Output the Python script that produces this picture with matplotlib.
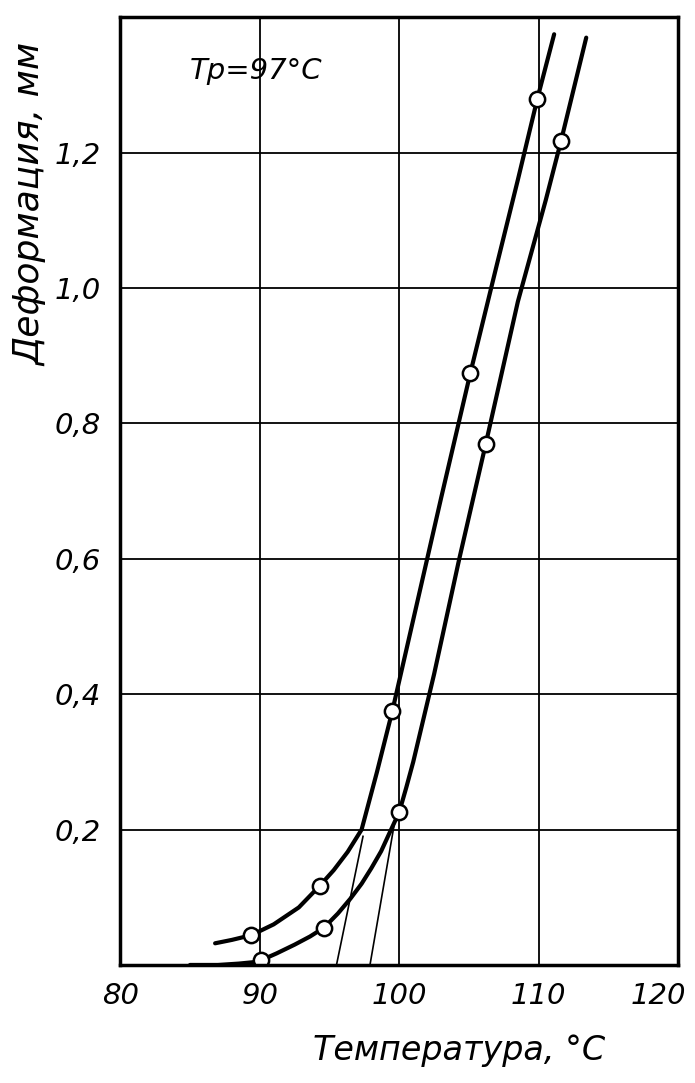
import matplotlib.pyplot as plt
from matplotlib.transforms import ScaledTranslation

# measured points (white circles)
t_upper = [89.4, 94.3, 99.5, 105.1, 109.9]
d_upper = [0.044, 0.117, 0.375, 0.875, 1.28]
t_lower = [90.1, 94.6, 100.0, 106.2, 111.6]
d_lower = [0.007, 0.055, 0.226, 0.77, 1.218]

# hand-drawn curves
trace_upper_t = [86.8, 88.0, 89.4, 91.0, 92.8, 94.3, 95.3, 96.3, 97.3, 98.4, 99.5, 101.0, 103.0, 105.1, 107.0, 108.5, 109.9, 111.1]
trace_upper_d = [0.032, 0.037, 0.044, 0.060, 0.085, 0.117, 0.140, 0.167, 0.200, 0.285, 0.375, 0.51, 0.69, 0.875, 1.035, 1.16, 1.28, 1.375]
trace_lower_t = [85.0, 87.0, 88.5, 89.5, 90.1, 91.2, 92.5, 93.6, 94.6, 95.6, 96.5, 97.3, 98.0, 98.7, 99.3, 100.0, 100.5, 101.0, 102.5, 104.3, 106.2, 108.5, 110.5, 111.6, 113.4]
trace_lower_d = [0.0, 0.0, 0.002, 0.004, 0.007, 0.017, 0.030, 0.042, 0.055, 0.076, 0.098, 0.120, 0.143, 0.168, 0.195, 0.226, 0.262, 0.30, 0.43, 0.60, 0.77, 0.98, 1.13, 1.218, 1.37]

# tangent lines used to find the softening point
tan1_t = [95.5, 97.4]
tan1_d = [0.0, 0.19]
tan2_t = [97.9, 99.7]
tan2_d = [0.0, 0.215]

xticks = [80, 90, 100, 110, 120]
xticklabels = ['80', '90', '100', '110', '120']
yticks = [0.2, 0.4, 0.6, 0.8, 1.0, 1.2]
yticklabels = ['0,2', '0,4', '0,6', '0,8', '1,0', '1,2']

fam = ['DejaVu Sans Condensed', 'Liberation Sans Narrow', 'DejaVu Sans']
plt.rcParams['font.family'] = fam
plt.rcParams['font.style'] = 'italic'

fig = plt.figure(figsize=(6.95, 10.83), dpi=100)
ax = fig.add_axes([0.173, 0.109, 0.803, 0.875])

ax.set_xlim(80, 120)
ax.set_ylim(0, 1.4)
ax.set_xticks(xticks)
ax.set_xticklabels(xticklabels, fontsize=21, style='italic')
ax.set_yticks(yticks)
ax.set_yticklabels(yticklabels, fontsize=21, style='italic')
ax.tick_params(length=0, pad=12)
ax.tick_params(axis='y', pad=14)
ax.grid(True, color='black', lw=1.3)
ax.set_axisbelow(True)
for s in ax.spines.values():
    s.set_linewidth(2.5)

# last x label sits a little left of its grid line, as in the original
last = ax.get_xticklabels()[-1]
last.set_transform(last.get_transform() + ScaledTranslation(-0.2, 0, fig.dpi_scale_trans))

ax.plot(tan1_t, tan1_d, color='black', lw=1.2)
ax.plot(tan2_t, tan2_d, color='black', lw=1.2)
ax.plot(trace_upper_t, trace_upper_d, color='black', lw=3, solid_capstyle='round')
ax.plot(trace_lower_t, trace_lower_d, color='black', lw=3, solid_capstyle='round')
ax.plot(t_upper, d_upper, 'o', ms=11, mfc='white', mec='black', mew=1.8)
ax.plot(t_lower, d_lower, 'o', ms=11, mfc='white', mec='black', mew=1.8)

ax.text(85, 1.32, 'Tp=97°C', fontsize=21, style='italic', ha='left', va='center')

fig.text(0.043, 0.811, 'Деформация, мм', rotation=90, fontsize=26, style='italic',
         ha='center', va='center')
fig.text(0.66, 0.03, 'Температура, °C', fontsize=24, style='italic',
         ha='center', va='center')

fig.savefig('out.png', dpi=100)
